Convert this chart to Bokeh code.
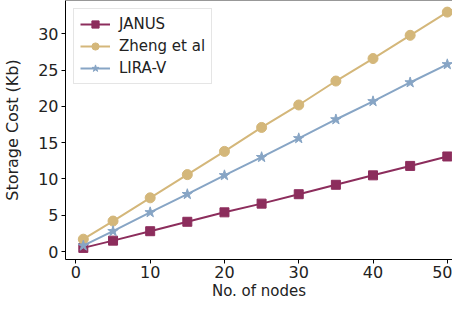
from bokeh.plotting import figure
from bokeh.models import Span, Range1d
from bokeh.embed import file_html
from bokeh.resources import INLINE

nodes = [1, 5, 10, 15, 20, 25, 30, 35, 40, 45, 50]
janus = [0.5, 1.5, 2.8, 4.1, 5.4, 6.6, 7.9, 9.2, 10.5, 11.8, 13.1]
zheng = [1.7, 4.2, 7.4, 10.6, 13.8, 17.1, 20.2, 23.5, 26.6, 29.8, 33.0]
lira = [0.8, 2.8, 5.4, 7.9, 10.5, 13.0, 15.6, 18.2, 20.7, 23.3, 25.8]
x_ticks = [0, 10, 20, 30, 40, 50]
y_ticks = [0, 5, 10, 15, 20, 25, 30]

C_JANUS = "#8c2d5c"
C_ZHENG = "#d4b77a"
C_LIRA = "#87a5c5"
FONT = "DejaVu Sans"

p = figure(width=452, height=302, output_backend="svg", toolbar_location=None,
           x_range=Range1d(-1.4, 50.7), y_range=Range1d(-1.1, 34.6),
           min_border_left=0, min_border_right=0, min_border_top=0, min_border_bottom=0)

p.line(nodes, janus, color=C_JANUS, line_width=2, legend_label="JANUS")
p.scatter(nodes, janus, marker="square", size=9, color=C_JANUS, legend_label="JANUS")
p.line(nodes, zheng, color=C_ZHENG, line_width=2, legend_label="Zheng et al")
p.scatter(nodes, zheng, marker="circle", size=10, color=C_ZHENG, legend_label="Zheng et al")
p.line(nodes, lira, color=C_LIRA, line_width=2, legend_label="LIRA-V")
p.scatter(nodes, lira, marker="star", size=11, color=C_LIRA, legend_label="LIRA-V")

p.outline_line_color = None
p.add_layout(Span(location=34.6, dimension="width", line_color="#333333", line_width=1))
p.xgrid.grid_line_color = None
p.ygrid.grid_line_color = None

for ax in (p.xaxis[0], p.yaxis[0]):
    ax.axis_line_color = "black"
    ax.major_tick_line_color = "black"
    ax.major_tick_out = 4
    ax.major_tick_in = 0
    ax.minor_tick_line_color = None
    ax.major_label_text_font = FONT
    ax.major_label_text_font_size = "16px"
    ax.major_label_text_color = "#222222"
    ax.axis_label_text_font = FONT
    ax.axis_label_text_font_style = "normal"
    ax.axis_label_text_color = "#222222"

p.xaxis.ticker = x_ticks
p.yaxis.ticker = y_ticks
p.xaxis.axis_label = "No. of nodes"
p.xaxis.axis_label_text_font_size = "15px"
p.yaxis.axis_label = "Storage Cost (Kb)"
p.yaxis.axis_label_text_font_size = "16px"
p.xaxis.major_label_standoff = 2
p.yaxis.major_label_standoff = 3
p.xaxis.axis_label_standoff = 1
p.yaxis.axis_label_standoff = 13

lg = p.legend[0]
lg.location = "top_left"
lg.label_text_font = FONT
lg.label_text_font_size = "15px"
lg.label_text_color = "#222222"
lg.border_line_color = "#cccccc"
lg.border_line_width = 1
lg.background_fill_alpha = 0.8
lg.glyph_width = 30
lg.glyph_height = 18
lg.label_standoff = 9
lg.label_height = 18
lg.spacing = 4
lg.padding = 6
lg.margin = 8

open("out.html", "w").write(file_html(p, INLINE))
